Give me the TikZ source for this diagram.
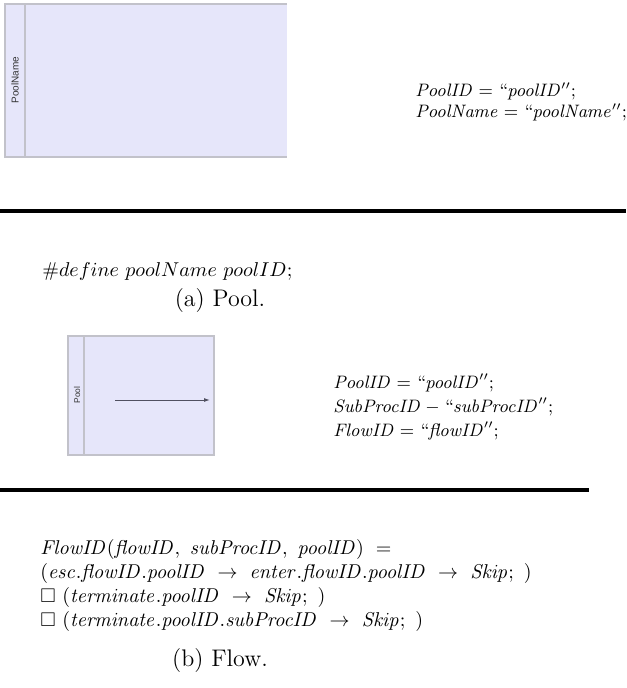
\documentclass[tikz,border=0pt]{standalone}
\usepackage{amssymb}
\usepackage[no-math]{fontspec}
\newfontfamily\lanefont{Liberation Sans}
\usetikzlibrary{arrows.meta}
\definecolor{poolfill}{HTML}{E6E6FA}
\definecolor{poolline}{HTML}{C2C2CA}
\definecolor{arrowgray}{HTML}{505060}
\begin{document}
\begin{tikzpicture}[x=0.5pt,y=-0.5pt,
  mathtxt/.style={anchor=base west,inner sep=0pt,font=\fontsize{9}{11}\selectfont},
  flowtxt/.style={anchor=base west,inner sep=0pt,font=\fontsize{9.9}{12}\selectfont},
  caption/.style={anchor=center,inner sep=0pt,font=\fontsize{12}{14}\selectfont},
  lanelabel/.style={rotate=90,inner sep=0pt,font=\lanefont\fontsize{5}{6}\selectfont,text=black!80},
  rule/.style={line width=2pt,draw=black}]
\useasboundingbox (0,0) rectangle (626,688);
% ---- Pool (a)
\fill[poolfill] (5,4) rectangle (287,157);
\draw[poolline,line width=0.6pt] (287,4) -- (5,4) -- (5,157) -- (287,157);
\draw[poolline,line width=0.6pt] (25,4) -- (25,157);
\node[lanelabel] (poolname) at (15,80) {PoolName};
\node[mathtxt] (pa1) at (415,97) {$\mathit{PoolID} = ``\mathit{poolID}'';$};
\node[mathtxt] (pa2) at (415,118) {$\mathit{PoolName} = ``\mathit{poolName}'';$};
\draw[rule] (0,211) -- (626,211);
\node[anchor=base west,inner sep=0pt,font=\fontsize{9.8}{12}\selectfont] (def) at (42,277) {$\#define\ poolName\ poolID;$};
\node[caption] (capa) at (220,301) {(a) Pool.};
% ---- Flow (b)
\fill[poolfill] (68,336) rectangle (214,455);
\draw[poolline,line width=0.6pt] (68,336) rectangle (214,455);
\draw[poolline,line width=0.6pt] (84,336) -- (84,455);
\node[lanelabel,font=\lanefont\fontsize{4.2}{5}\selectfont] (pool) at (77,395) {Pool};
\coordinate (fa) at (115,400);
\coordinate (fb) at (210,400);
\draw[arrowgray,line width=0.5pt,-{Latex[length=3pt,width=2pt]}] (fa) -- (fb);
\node[mathtxt] (pb1) at (333,388) {$\mathit{PoolID} = ``\mathit{poolID}'';$};
\node[mathtxt] (pb2) at (333,412) {$\mathit{SubProcID} - ``\mathit{subProcID}'';$};
\node[mathtxt] (pb3) at (333,436) {$\mathit{FlowID} = ``\mathit{flowID}'';$};
\draw[rule] (0,490) -- (589,490);
\node[flowtxt] (fl1) at (40,554) {$\mathit{FlowID}(\mathit{flowID},\ \mathit{subProcID},\ \mathit{poolID})\ =$};
\node[flowtxt] (fl2) at (40,578) {$(\mathit{esc.flowID.poolID}\ \rightarrow\ \mathit{enter.flowID.poolID}\ \rightarrow\ \mathit{Skip};\ )$};
\node[flowtxt] (fl3) at (40,602) {$\Box\ (\mathit{terminate.poolID}\ \rightarrow\ \mathit{Skip};\ )$};
\node[flowtxt] (fl4) at (40,626) {$\Box\ (\mathit{terminate.poolID.subProcID}\ \rightarrow\ \mathit{Skip};\ )$};
\node[caption] (capb) at (220,661) {(b) Flow.};
\end{tikzpicture}
\end{document}
